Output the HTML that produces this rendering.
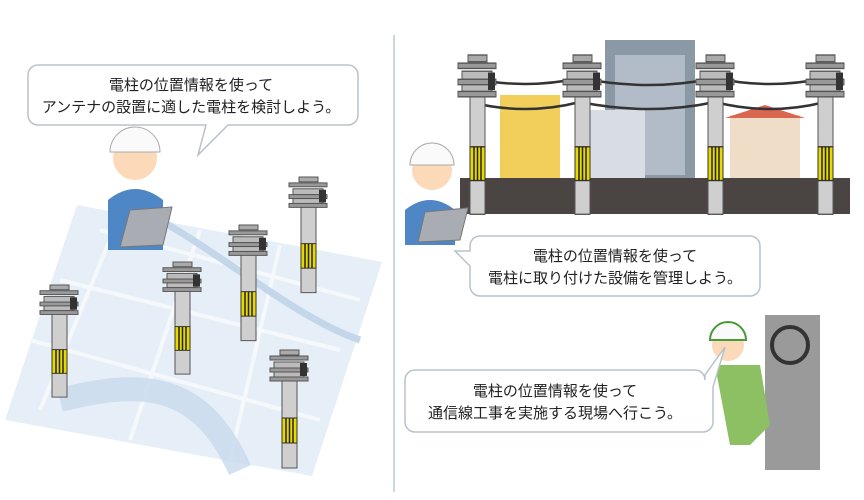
<!DOCTYPE html>
<html><head><meta charset="utf-8"><style>
html,body{margin:0;padding:0;background:#fff;}
svg{display:block}
text{font-family:"Liberation Sans","Noto Sans CJK JP",sans-serif;font-size:15px;fill:#222}
</style></head><body>
<svg width="864" height="500" viewBox="0 0 864 500" xmlns="http://www.w3.org/2000/svg">
<defs>
<g id="pole">
  <rect x="12" y="28" width="15" height="90" fill="#cfcfcf" stroke="#555" stroke-width="1"/>
  <rect x="10" y="0" width="19" height="5" fill="#aaa" stroke="#555"/>
  <rect x="0" y="6" width="38" height="4" fill="#999" stroke="#555"/>
  <rect x="4" y="12" width="30" height="6" fill="#bbb" stroke="#555"/>
  <rect x="0" y="18" width="38" height="4" fill="#999" stroke="#555"/>
  <rect x="4" y="22" width="30" height="5" fill="#bbb" stroke="#555"/>
  <rect x="0" y="27" width="38" height="4" fill="#999" stroke="#555"/>
  <rect x="30" y="13" width="7" height="13" fill="#333"/>
  <rect x="12" y="68" width="15" height="25" fill="#e6d800" stroke="#333"/>
  <path d="M16 68v25M19.5 68v25M23 68v25" stroke="#222" stroke-width="1.5"/>
</g>
</defs>
<line x1="394" y1="35" x2="394" y2="492" stroke="#c9d6e3" stroke-width="2"/>
<polygon points="77,205 382,262 312,476 5,420" fill="#e6eef7"/>
<path d="M100,230 L360,300 M60,280 L340,350 M30,340 L320,420 M120,215 L40,410 M200,230 L130,440 M280,245 L230,460" stroke="#f6f9fc" stroke-width="4" fill="none"/>
<path d="M160,220 C230,260 300,320 360,340" stroke="#c3d6ea" stroke-width="7" fill="none"/>
<path d="M60,400 C140,380 200,380 240,470" stroke="#c8d9ec" stroke-width="24" fill="none" opacity=".8"/>
<circle cx="135" cy="158" r="22" fill="#fcd9b8"/>
<path d="M110,152 a25,25 0 0 1 50,0 z" fill="#fafafa" stroke="#aaa"/>
<path d="M108,200 q27,-22 55,0 v50 h-55z" fill="#4f86c6"/>
<polygon points="130,210 172,207 163,245 120,247" fill="#a9adb3" stroke="#777"/>
<use href="#pole" transform="translate(40,285) scale(1,0.95)"/>
<use href="#pole" transform="translate(163,262) scale(1,0.95)"/>
<use href="#pole" transform="translate(229,225) scale(1,0.98)"/>
<use href="#pole" transform="translate(289,177) scale(1,0.98)"/>
<use href="#pole" transform="translate(270,350) scale(1,1)"/>
<path d="M38,65 h310 a10,10 0 0 1 10,10 v40 a10,10 0 0 1 -10,10 h-120 l-30,30 l8,-30 h-168 a10,10 0 0 1 -10,-10 v-40 a10,10 0 0 1 10,-10z" fill="#fff" stroke="#b8c2cc" stroke-width="1.5"/>
<text x="191" y="90" text-anchor="middle">電柱の位置情報を使って</text>
<text x="191" y="112" text-anchor="middle">アンテナの設置に適した電柱を検討しよう。</text>
<rect x="605" y="40" width="90" height="140" fill="#8b98a6"/>
<rect x="615" y="55" width="70" height="120" fill="#b2bcc8"/>
<rect x="500" y="95" width="60" height="85" fill="#f1cf5a"/>
<rect x="590" y="110" width="55" height="70" fill="#d8dde4"/>
<rect x="730" y="115" width="70" height="65" fill="#f0ddc7"/>
<polygon points="725,118 765,105 805,118" fill="#d9664f"/>
<rect x="460" y="178" width="390" height="36" fill="#4a4542"/>
<path d="M470,78 Q525,90 580,78 Q650,92 715,78 Q770,90 825,78 M470,102 Q525,116 580,102 Q650,116 715,102 Q770,116 825,102" stroke="#333" stroke-width="2.5" fill="none"/>
<use href="#pole" transform="translate(458,55) scale(1,1.35)"/>
<use href="#pole" transform="translate(563,55) scale(1,1.35)"/>
<use href="#pole" transform="translate(696,55) scale(1,1.35)"/>
<use href="#pole" transform="translate(806,55) scale(1,1.35)"/>
<circle cx="432" cy="170" r="20" fill="#fcd9b8"/>
<path d="M410,165 a22,22 0 0 1 44,0 z" fill="#fafafa" stroke="#aaa"/>
<path d="M405,210 q25,-20 50,0 v35 h-50z" fill="#4f86c6"/>
<polygon points="425,212 468,208 460,240 418,242" fill="#a9adb3" stroke="#777"/>
<path d="M480,236 h270 a10,10 0 0 1 10,10 v40 a10,10 0 0 1 -10,10 h-270 a10,10 0 0 1 -10,-10 v-20 l-15,-15 l15,0 v-5 a10,10 0 0 1 10,-10z" fill="#fff" stroke="#b8c2cc" stroke-width="1.5"/>
<text x="615" y="261" text-anchor="middle">電柱の位置情報を使って</text>
<text x="615" y="283" text-anchor="middle">電柱に取り付けた設備を管理しよう。</text>
<rect x="765" y="315" width="55" height="155" fill="#9a9a9a"/>
<circle cx="790" cy="345" r="18" fill="none" stroke="#333" stroke-width="4"/>
<circle cx="728" cy="345" r="16" fill="#fcd9b8"/>
<path d="M710,340 a18,18 0 0 1 36,0z" fill="#fafafa" stroke="#4a9a3a" stroke-width="2"/>
<path d="M715,365 h45 l10,60 l-20,20 h-20z" fill="#8cc063"/>
<path d="M415,370 h280 a10,10 0 0 1 10,10 v-5 l20,-28 l-12,40 v35 a10,10 0 0 1 -10,10 h-288 a10,10 0 0 1 -10,-10 v-42 a10,10 0 0 1 10,-10z" fill="#fff" stroke="#b8c2cc" stroke-width="1.5"/>
<text x="555" y="396" text-anchor="middle">電柱の位置情報を使って</text>
<text x="555" y="418" text-anchor="middle">通信線工事を実施する現場へ行こう。</text>
</svg>
</body></html>
